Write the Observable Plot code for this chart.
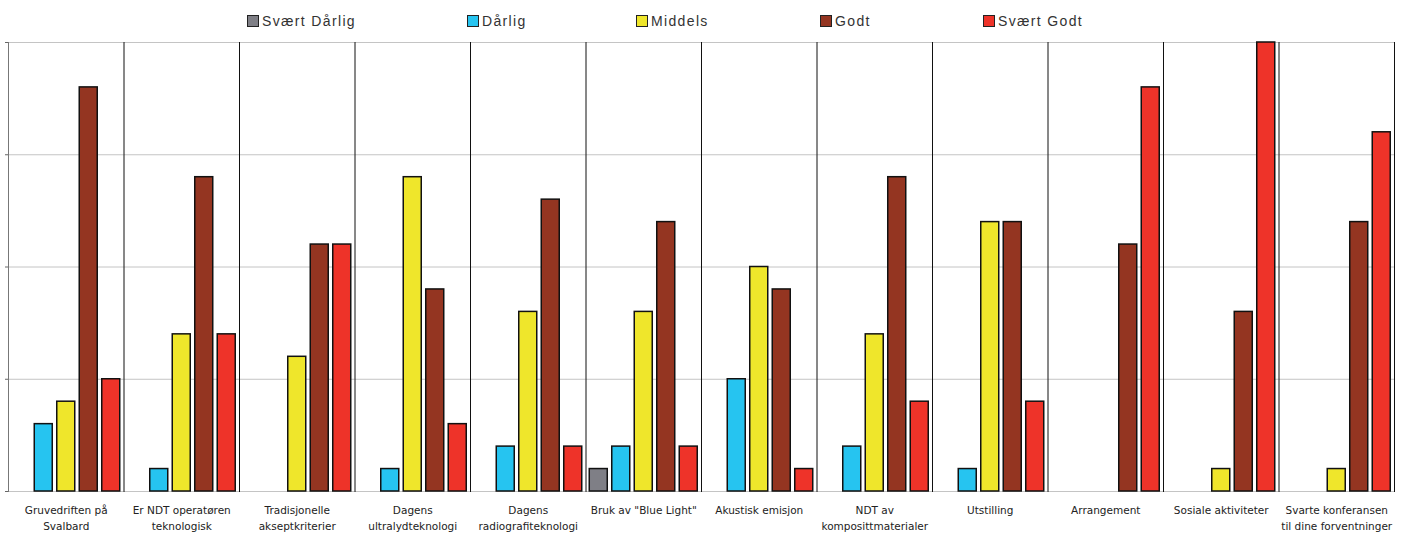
<!DOCTYPE html>
<html>
<head>
<meta charset="utf-8">
<script src="https://cdn.jsdelivr.net/npm/d3@7"></script>
<script src="https://cdn.jsdelivr.net/npm/@observablehq/plot@0.6"></script>
<style>
  html, body { margin: 0; padding: 0; background: #fff; }
  #legend { position: relative; width: 1402px; height: 36px; font-family: "Liberation Sans", Arial, sans-serif; font-size: 14px; letter-spacing: 1.35px; color: #333; }
  .item { position: absolute; top: 13px; display: flex; align-items: center; white-space: nowrap; }
  .sw { width: 10px; height: 10px; border: 1px solid #222; margin-right: 3px; }
  #chart svg { display: block; }
</style>
</head>
<body>
<div id="legend"></div>
<div id="chart"></div>
<script>
// ---- data ----
const categories = [
  "Gruvedriften på Svalbard",
  "Er NDT operatøren teknologisk",
  "Tradisjonelle akseptkriterier",
  "Dagens ultralydteknologi",
  "Dagens radiografiteknologi",
  "Bruk av \"Blue Light\"",
  "Akustisk emisjon",
  "NDT av komposittmaterialer",
  "Utstilling",
  "Arrangement",
  "Sosiale aktiviteter",
  "Svarte konferansen til dine forventninger"
];
const categoryLabels = [
  "Gruvedriften på\nSvalbard",
  "Er NDT operatøren\nteknologisk",
  "Tradisjonelle\nakseptkriterier",
  "Dagens\nultralydteknologi",
  "Dagens\nradiografiteknologi",
  "Bruk av \"Blue Light\"",
  "Akustisk emisjon",
  "NDT av\nkomposittmaterialer",
  "Utstilling",
  "Arrangement",
  "Sosiale aktiviteter",
  "Svarte konferansen\ntil dine forventninger"
];
const series = ["Svært Dårlig", "Dårlig", "Middels", "Godt", "Svært Godt"];
const svaertDarlig = [0, 0, 0, 0, 0, 1, 0, 0, 0, 0, 0, 0];
const darlig       = [3, 1, 0, 1, 2, 2, 5, 2, 1, 0, 0, 0];
const middels      = [4, 7, 6, 14, 8, 8, 10, 7, 12, 0, 1, 1];
const godt         = [18, 14, 11, 9, 13, 12, 9, 14, 12, 11, 8, 12];
const svaertGodt   = [5, 7, 11, 3, 2, 2, 1, 4, 4, 18, 20, 16];
const yTicks = [0, 5, 10, 15, 20];

// ---- styles / layout ----
const seriesColors = ["#7f7f86", "#26c4f0", "#efe62b", "#943521", "#ee3329"];
const legendLeft = [247, 467, 636, 820, 983];

const seriesValues = [svaertDarlig, darlig, middels, godt, svaertGodt];
const rows = [];
categories.forEach((c, i) => {
  series.forEach((s, j) => {
    const v = seriesValues[j][i];
    if (v > 0) rows.push({category: c, series: s, value: v});
  });
});

// legend
const legend = document.getElementById("legend");
series.forEach((s, j) => {
  const it = document.createElement("div");
  it.className = "item";
  it.style.left = legendLeft[j] + "px";
  const sw = document.createElement("div");
  sw.className = "sw";
  sw.style.background = seriesColors[j];
  const tx = document.createElement("span");
  tx.textContent = s;
  it.appendChild(sw);
  it.appendChild(tx);
  legend.appendChild(it);
});

const chart = Plot.plot({
  width: 1402,
  height: 497,
  marginTop: 6,
  marginBottom: 42,
  marginLeft: 8,
  marginRight: 8,
  style: {fontFamily: "DejaVu Sans", fontSize: "10px", color: "#222", background: "#fff"},
  fx: {domain: categories, padding: 0, round: false, label: null, axis: null},
  x: {domain: series, paddingInner: 0.2, paddingOuter: 0.167, round: false, axis: null},
  y: {domain: [0, 20], axis: null},
  color: {domain: series, range: seriesColors},
  marks: [
    Plot.gridY(yTicks, {stroke: "#c4c4c4", strokeOpacity: 1}),
    Plot.axisY(yTicks, {tickSize: 3, tickFormat: () => "", stroke: "#666", label: null}),
    Plot.frame({anchor: "left", stroke: "#777", facetAnchor: "left"}),
    Plot.frame({anchor: "right", stroke: "#111"}),
    Plot.barY(rows, {fx: "category", x: "series", y: "value", fill: "series", stroke: "#111", strokeWidth: 1.5}),
    Plot.axisFx({
      anchor: "bottom",
      tickSize: 0,
      tickPadding: 12,
      label: null,
      lineHeight: 1.45,
      fontSize: 10.5,
      tickFormat: c => categoryLabels[categories.indexOf(c)]
    })
  ]
});
document.getElementById("chart").appendChild(chart);
</script>
</body>
</html>
